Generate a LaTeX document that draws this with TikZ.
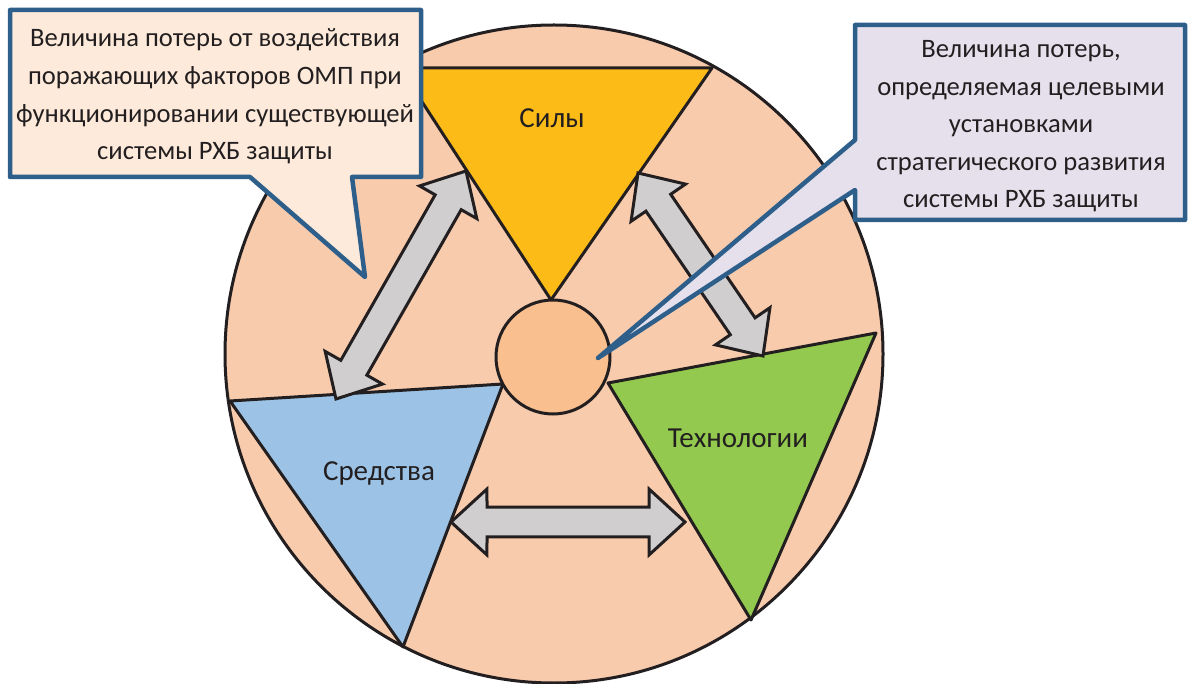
\documentclass[tikz,border=0pt]{standalone}
\usepackage{fontspec}
\setmainfont{Carlito}
\usetikzlibrary{calc}
\definecolor{lineC}{HTML}{231F20}
\definecolor{circC}{HTML}{F8CBAD}
\definecolor{smallC}{HTML}{FABF8F}
\definecolor{silyC}{HTML}{FCBB17}
\definecolor{techC}{HTML}{93C94E}
\definecolor{sredC}{HTML}{9CC3E5}
\definecolor{arrC}{HTML}{D0CECE}
\definecolor{lboxC}{HTML}{FDEADA}
\definecolor{rboxC}{HTML}{E5E0EC}
\definecolor{bordC}{HTML}{2E5F8B}
\definecolor{txtC}{HTML}{231F20}
\newcommand{\dbarrow}[2]{%
 \draw[arrowst] (#1)
  -- ($(#1)!48.8pt!42.5:(#2)$)
  -- ($(#1)!39pt!22.6:(#2)$)
  -- ($(#2)!39pt!-22.6:(#1)$)
  -- ($(#2)!48.8pt!-42.5:(#1)$)
  -- (#2)
  -- ($(#2)!48.8pt!42.5:(#1)$)
  -- ($(#2)!39pt!22.6:(#1)$)
  -- ($(#1)!39pt!-22.6:(#2)$)
  -- ($(#1)!48.8pt!-42.5:(#2)$)
  -- cycle;}
\begin{document}
\begin{tikzpicture}[x=1pt,y=-1pt,
  tri/.style={draw=lineC, line width=3pt, line join=round},
  arrowst/.style={draw=lineC, fill=arrC, line width=3pt, line join=miter},
  callout/.style={draw=bordC, line width=4.5pt, line join=round},
  lab/.style={font=\fontsize{29}{34}\selectfont, text=txtC, anchor=base, inner sep=0pt},
  ctext/.style={text=txtC, align=center, anchor=base, inner sep=0pt}]
\useasboundingbox (0,0) rectangle (1189,684);
% big circle
\node[circle, draw=lineC, line width=3pt, fill=circC, minimum size=658pt, inner sep=0pt] (big) at (554,354) {};
% triangles
\coordinate (s1) at (400,68); \coordinate (s2) at (712,68); \coordinate (s3) at (551,300);
\coordinate (t1) at (608,383); \coordinate (t2) at (876,333); \coordinate (t3) at (751,620);
\coordinate (m1) at (230,401); \coordinate (m2) at (503,384); \coordinate (m3) at (403,647);
\draw[tri, fill=silyC] (s1) -- (s2) -- (s3) -- cycle;
\draw[tri, fill=techC] (t1) -- (t2) -- (t3) -- cycle;
\draw[tri, fill=sredC] (m1) -- (m2) -- (m3) -- cycle;
% small circle
\node[circle, draw=lineC, line width=3pt, fill=smallC, minimum size=114pt, inner sep=0pt] (core) at (553,357) {};
% labels
\node[lab] (sily) at (552,128) {Силы};
\node[lab] (tech) at (738,447) {Технологии};
\node[lab] (sred) at (379,480) {Средства};
% arrows
\coordinate (a1) at (336,399); \coordinate (a2) at (466,171);
\coordinate (b1) at (638,173); \coordinate (b2) at (763,356);
\coordinate (c1) at (451,522); \coordinate (c2) at (685,522);
\dbarrow{a1}{a2}
\dbarrow{b1}{b2}
\dbarrow{c1}{c2}
% callouts
\coordinate (lp) at (365,277);
\draw[callout, fill=lboxC] (10,10) -- (421,10) -- (421,177) -- (352,177) -- (lp) -- (250,177) -- (10,177) -- cycle;
\node[ctext, font=\fontsize{26.6}{37.7}\selectfont] (ltext) at (215,160) {Величина потерь от воздействия\\поражающих факторов ОМП при\\функционировании существующей\\системы РХБ защиты};
\coordinate (rp) at (598,358);
\draw[callout, fill=rboxC] (855,25) -- (1185,25) -- (1185,220) -- (855,220) -- (855,190) -- (rp) -- (855,140) -- cycle;
\node[ctext, font=\fontsize{26.6}{37.5}\selectfont] (rtext) at (1021,208) {Величина потерь,\\определяемая целевыми\\установками\\стратегического развития\\системы РХБ защиты};
\end{tikzpicture}
\end{document}
